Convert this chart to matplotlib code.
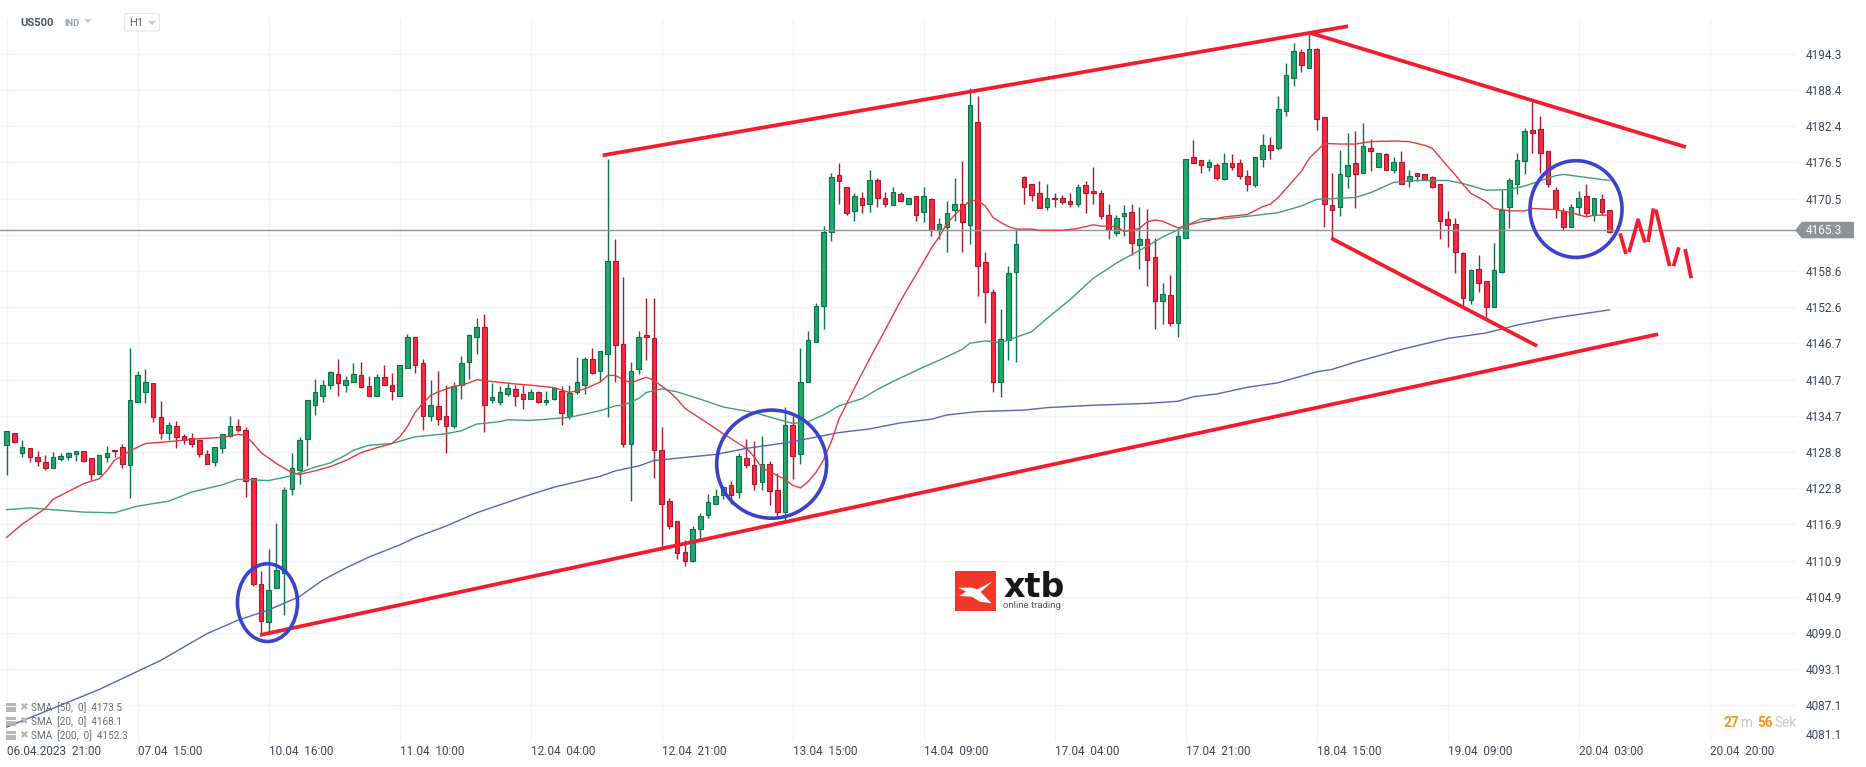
import matplotlib
matplotlib.use("Agg")
import matplotlib.pyplot as plt
from matplotlib.patches import Ellipse, Polygon, Rectangle, FancyBboxPatch

plt.rcParams['font.family'] = ['Roboto', 'DejaVu Sans']

# ---------- data ----------
opens = [
 4129.9,4131.9,4128.6,4129.4,4127.9,4127.1,4126.2,4127.7,4127.9,4128.4,
 4128.9,4127.8,4125.1,4128.0,4129.2,4129.6,4126.6,4137.1,4138.6,4140.1,
 4134.5,4132.0,4133.0,4131.4,4131.1,4130.7,4128.4,4127.1,4129.4,4131.4,
 4133.0,4132.5,4124.5,4107.0,4100.8,4106.4,4108.8,4122.7,4125.9,4130.9,
 4136.6,4138.0,4139.8,4141.6,4139.9,4140.4,4141.4,4139.6,4138.1,4141.1,
 4139.8,4138.1,4142.6,4147.8,4143.4,4134.7,4136.3,4134.8,4133.0,4139.8,
 4143.7,4147.7,4149.3,4137.3,4137.1,4138.3,4139.1,4138.3,4137.6,4138.6,
 4137.0,4137.5,4138.8,4134.8,4138.6,4139.8,4144.1,4142.1,4145.0,4160.2,
 4146.5,4130.1,4142.4,4148.0,4147.5,4129.2,4120.8,4117.5,4112.4,4110.9,
 4116.1,4118.4,4120.2,4121.8,4123.3,4122.2,4127.8,4126.6,4123.8,4126.9,
 4122.5,4118.9,4133.2,4128.4,4140.3,4146.9,4152.8,4165.1,4174.4,4172.5,
 4168.4,4170.6,4169.7,4173.5,4170.6,4169.4,4171.2,4169.7,4170.9,4168.3,
 4170.4,4165.3,4165.8,4168.6,4169.7,4166.1,4183.2,4160.0,4155.1,4140.4,
 4147.2,4158.4,4174.0,4173.0,4171.5,4169.1,4170.7,4170.6,4170.1,4169.6,
 4172.7,4171.7,4171.5,4167.8,4164.8,4167.6,4168.3,4162.8,4163.8,4160.9,
 4153.6,4154.6,4150.0,4164.1,4177.3,4176.8,4175.7,4176.0,4173.7,4176.3,
 4176.3,4174.2,4172.7,4177.0,4179.3,4178.8,4185.0,4190.3,4194.6,4192.1,
 4195.1,4183.9,4169.4,4169.1,4174.2,4176.3,4174.8,4178.8,4175.8,4177.8,
 4175.3,4176.5,4173.4,4174.8,4174.5,4174.0,4172.9,4167.1,4166.3,4161.5,
 4153.9,4159.0,4156.9,4152.6,4158.5,4169.1,4173.0,4176.7,4181.8,4181.9,
 4178.3,4172.0,4168.4,4165.9,4169.2,4170.9,4167.9,4170.4,4168.7]
closes = [
 4132.3,4130.5,4129.6,4127.9,4127.4,4126.2,4127.9,4128.1,4128.6,4128.9,
 4127.4,4125.1,4128.3,4128.7,4128.9,4126.8,4137.3,4141.4,4140.3,4134.6,
 4131.9,4133.2,4131.2,4130.8,4130.1,4128.5,4126.9,4129.6,4131.7,4133.0,
 4132.4,4124.1,4107.1,4100.9,4106.0,4109.3,4122.5,4126.1,4130.7,4137.3,
 4138.6,4139.8,4141.9,4140.1,4140.6,4141.6,4139.5,4138.0,4141.1,4139.8,
 4138.8,4143.2,4147.8,4143.1,4134.7,4136.6,4134.3,4133.0,4139.6,4143.4,
 4148.0,4149.3,4136.6,4137.8,4138.6,4139.3,4138.0,4137.6,4138.6,4137.0,
 4137.3,4139.3,4135.2,4138.5,4140.3,4144.1,4141.8,4145.5,4160.2,4146.4,
 4130.2,4142.2,4147.8,4147.7,4129.1,4120.2,4116.7,4112.1,4110.9,4116.2,
 4118.2,4120.5,4121.5,4123.0,4121.8,4128.2,4126.6,4123.5,4126.9,4122.3,
 4118.9,4133.2,4128.1,4140.3,4147.3,4152.8,4165.0,4174.0,4173.4,4168.1,
 4170.9,4169.4,4173.5,4170.6,4169.6,4171.6,4170.1,4170.7,4167.9,4170.9,
 4165.3,4166.3,4168.1,4169.6,4166.6,4186.0,4159.4,4155.1,4140.4,4147.4,
 4158.2,4163.0,4172.5,4171.1,4168.9,4170.6,4170.4,4169.9,4169.7,4172.5,
 4171.5,4171.4,4167.6,4165.3,4167.4,4168.1,4163.2,4163.8,4160.4,4153.6,
 4154.8,4150.1,4164.3,4177.1,4176.3,4176.0,4176.5,4173.9,4176.3,4175.8,
 4174.2,4172.9,4177.3,4179.3,4178.5,4185.2,4190.8,4194.8,4192.5,4195.1,
 4183.7,4169.6,4168.6,4174.5,4176.0,4174.5,4179.1,4178.3,4178.1,4175.2,
 4176.5,4173.0,4174.3,4174.2,4173.5,4172.4,4166.8,4166.1,4161.8,4154.1,
 4158.7,4156.6,4152.6,4158.7,4168.7,4173.5,4176.8,4181.6,4181.4,4178.1,
 4173.0,4168.8,4165.9,4169.1,4170.7,4168.1,4170.7,4168.3,4165.1]
highs = [
 4132.3,4131.9,4130.7,4129.4,4129.0,4128.3,4128.8,4128.6,4128.8,4128.9,
 4128.9,4127.8,4128.3,4129.8,4129.2,4130.2,4145.9,4142.1,4142.5,4140.1,
 4137.2,4133.7,4133.9,4131.7,4131.9,4130.7,4129.2,4129.7,4131.7,4134.7,
 4134.2,4132.9,4124.6,4109.2,4112.8,4117.1,4123.1,4128.6,4131.2,4137.3,
 4140.9,4140.6,4142.1,4144.1,4141.3,4143.4,4143.6,4141.3,4141.6,4143.1,
 4141.8,4143.2,4148.2,4147.8,4144.1,4140.6,4142.2,4139.8,4140.3,4144.6,
 4148.3,4150.8,4151.6,4140.1,4139.6,4140.3,4139.9,4139.9,4139.1,4138.8,
 4138.8,4139.5,4139.6,4139.8,4144.4,4144.4,4146.0,4145.5,4177.1,4163.8,
 4157.6,4143.6,4148.8,4154.1,4154.1,4132.9,4121.3,4117.5,4114.3,4116.6,
 4118.7,4121.9,4122.7,4123.0,4124.1,4128.7,4131.0,4130.6,4131.4,4127.3,
 4125.3,4136.2,4134.8,4146.0,4148.7,4153.3,4166.0,4174.7,4176.3,4172.5,
 4171.4,4171.6,4175.2,4173.9,4171.6,4172.5,4171.6,4170.7,4170.9,4172.5,
 4170.7,4167.3,4170.2,4173.9,4176.7,4188.7,4187.4,4161.8,4155.7,4152.4,
 4159.4,4165.5,4174.2,4173.0,4173.4,4173.0,4171.5,4171.1,4171.4,4172.9,
 4173.4,4175.7,4172.0,4169.6,4167.9,4169.4,4169.6,4169.1,4168.8,4164.1,
 4156.6,4158.0,4165.6,4177.1,4180.1,4176.8,4177.0,4176.3,4178.1,4177.8,
 4177.1,4175.3,4177.3,4181.1,4180.6,4187.4,4192.8,4196.1,4195.1,4197.6,
 4195.3,4184.0,4174.8,4178.6,4181.3,4181.6,4182.9,4180.4,4178.1,4178.1,
 4177.3,4178.3,4175.2,4174.8,4174.5,4174.2,4172.9,4168.4,4167.3,4161.8,
 4158.9,4161.3,4156.9,4163.2,4171.9,4173.9,4178.1,4182.1,4186.5,4184.1,
 4178.3,4172.5,4168.9,4169.6,4171.7,4173.0,4170.7,4171.2,4168.7]
lows = [
 4125.0,4130.3,4128.0,4127.2,4126.5,4125.9,4126.1,4127.4,4127.5,4127.4,
 4127.2,4124.2,4125.1,4127.2,4128.0,4126.2,4121.3,4137.1,4136.8,4133.8,
 4131.0,4130.7,4129.4,4130.2,4129.7,4128.0,4126.9,4126.5,4128.7,4131.2,
 4132.1,4121.4,4106.8,4098.6,4099.1,4106.4,4102.0,4121.8,4123.6,4126.5,
 4134.9,4137.1,4139.2,4138.1,4138.6,4140.3,4139.3,4138.0,4138.1,4139.8,
 4137.3,4138.1,4142.6,4141.8,4132.5,4133.9,4133.2,4128.6,4132.7,4137.6,
 4140.8,4144.9,4132.1,4136.8,4136.6,4138.1,4136.4,4135.8,4137.6,4136.8,
 4136.6,4137.3,4133.2,4134.3,4138.3,4138.3,4141.6,4140.3,4134.6,4140.3,
 4129.7,4120.8,4141.6,4143.9,4124.6,4112.7,4116.2,4111.2,4110.1,4110.7,
 4114.4,4118.0,4120.2,4121.0,4120.3,4121.3,4126.1,4122.5,4122.5,4120.0,
 4118.0,4117.5,4124.3,4126.8,4140.3,4146.9,4149.0,4163.6,4169.7,4167.8,
 4166.8,4168.1,4168.3,4169.2,4169.2,4169.4,4170.1,4169.6,4166.9,4166.6,
 4164.3,4163.8,4161.8,4166.9,4161.8,4163.0,4154.5,4150.1,4138.6,4137.8,
 4144.0,4143.6,4169.7,4170.2,4168.9,4168.6,4169.1,4169.7,4169.1,4169.1,
 4168.1,4169.7,4167.1,4163.8,4164.3,4164.3,4161.3,4159.0,4156.2,4149.0,
 4149.8,4149.5,4147.8,4164.1,4176.3,4174.8,4175.0,4173.5,4173.5,4175.3,
 4173.7,4171.7,4172.5,4175.8,4177.1,4178.6,4184.2,4189.0,4191.3,4192.1,
 4181.8,4165.9,4164.0,4167.6,4172.2,4168.9,4174.8,4175.0,4175.8,4175.2,
 4174.8,4173.0,4172.4,4173.4,4173.5,4172.2,4163.8,4162.5,4158.2,4152.9,
 4153.1,4155.2,4151.0,4152.6,4158.2,4165.6,4171.2,4174.5,4178.1,4174.7,
 4172.4,4167.3,4165.3,4165.8,4167.8,4167.6,4166.8,4167.8,4164.8]

sma20_x = [0,2,5,6,8,10,12,13,14,15,16,18,21,25,28,30,31,32,33,35,37,38,40,42,44,46,48,50,51,52,53,54,55,56,58,59,60,61,63,66,68,71,73,75,77,78,79,80,81,83,84,86,87,88,91,93,96,97,98,101,102,103,104,105,106,107,108,110,112,114,116,118,120,121,122,123,124,125,126,127,128,129,130,131,133,134,137,139,141,142,143,144,145,147,148,149,150,152,153,155,158,161,163,164,165,168,169,171,173,175,177,180,182,184,185,187,188,189,190,192,193,195,197,198,201,203,205,206,208]
sma20_y = [4114.75,4116.9,4119.5,4121.0,4122.3,4123.6,4124.4,4125.7,4127.5,4128.1,4129.0,4130.2,4130.5,4131.0,4131.2,4131.7,4131.5,4130.2,4128.7,4126.9,4125.4,4125.1,4125.7,4126.4,4127.4,4128.7,4129.5,4130.2,4131.3,4133.0,4135.3,4136.8,4138.1,4138.7,4139.6,4139.8,4140.2,4140.7,4140.4,4140.0,4139.8,4139.4,4138.6,4139.2,4140.3,4141.4,4141.4,4140.7,4140.2,4141.1,4140.6,4138.7,4137.5,4136.0,4133.5,4131.8,4129.4,4128.0,4126.2,4124.3,4123.3,4122.9,4123.9,4125.4,4127.5,4130.5,4134.2,4139.3,4144.2,4148.9,4153.7,4158.0,4162.4,4164.2,4166.4,4167.8,4169.0,4170.2,4170.2,4169.3,4167.4,4166.6,4165.9,4165.5,4165.5,4165.3,4165.3,4165.6,4166.2,4166.0,4166.0,4165.9,4165.1,4165.6,4166.7,4167.0,4166.8,4165.7,4166.1,4166.7,4167.5,4167.9,4169.2,4169.6,4170.7,4175.0,4177.1,4179.6,4179.5,4179.5,4179.9,4180.0,4179.9,4179.3,4178.8,4175.8,4174.4,4172.8,4171.4,4170.0,4168.9,4168.5,4168.5,4168.9,4168.7,4168.2,4167.5,4167.8,4167.8]
sma50_x = [0,3,6,10,14,17,21,24,28,30,34,37,38,40,42,44,45,47,50,53,57,59,61,64,65,68,71,73,77,79,80,82,83,85,87,90,93,97,100,102,104,106,108,111,113,115,119,121,124,125,127,129,133,135,138,141,144,148,150,152,155,158,161,165,168,170,175,177,180,183,187,189,192,195,197,201,202,205,208]
sma50_y = [4119.3,4119.6,4119.3,4118.9,4118.8,4119.9,4120.7,4122.2,4123.4,4124.3,4124.1,4124.9,4125.4,4126.3,4127.0,4128.3,4129.1,4129.9,4130.2,4131.3,4131.8,4132.3,4133.4,4133.8,4134.1,4134.0,4134.3,4134.5,4135.6,4136.4,4136.5,4137.6,4138.6,4139.2,4138.7,4137.5,4136.2,4135.3,4134.2,4133.5,4133.8,4134.9,4136.4,4137.6,4139.1,4140.4,4142.8,4143.9,4145.7,4146.7,4147.1,4146.8,4148.6,4150.8,4153.9,4157.4,4159.9,4162.7,4164.2,4165.4,4167.2,4167.2,4167.6,4168.2,4169.3,4170.4,4170.7,4171.5,4173.2,4173.5,4173.5,4173.0,4171.9,4172.0,4172.6,4174.3,4174.5,4174.0,4173.5]
sma200_x = [0,12,20,26,30,34,38,41,44,47,51,53,57,61,67,71,77,79,82,84,92,96,101,104,108,112,116,120,122,126,132,135,141,148,152,154,157,161,165,170,172,175,181,185,187,192,196,201,208]
sma200_y = [4083.5,4089.7,4094.5,4098.9,4101.1,4102.8,4105.0,4107.7,4109.7,4111.5,4113.5,4114.7,4116.6,4118.8,4121.4,4123.0,4124.8,4125.7,4126.5,4127.4,4128.4,4129.4,4130.3,4131.0,4132.0,4132.6,4133.6,4134.2,4134.9,4135.45,4135.7,4136.1,4136.5,4136.8,4137.15,4137.9,4138.35,4139.45,4140.2,4142.0,4142.4,4143.6,4145.7,4146.9,4147.5,4148.4,4149.7,4150.9,4152.2]

price_ticks = [4194.3,4188.4,4182.4,4176.5,4170.5,4164.6,4158.6,4152.6,4146.7,4140.7,4134.7,4128.8,4122.8,4116.9,4110.9,4104.9,4099.0,4093.1,4087.1,4081.1]
time_ticks = [0,17,34,51,68,85,102,119,136,153,170,187,204,221]
time_labels = ["06.04.2023  21:00","07.04  15:00","10.04  16:00","11.04  10:00","12.04  04:00","12.04  21:00","13.04  15:00","14.04  09:00","17.04  04:00","17.04  21:00","18.04  15:00","19.04  09:00","20.04  03:00","20.04  20:00"]
current_price = 4165.3
legend_labels = ["SMA  [50,  0]  4173.5","SMA  [20,  0]  4168.1","SMA  [200,  0]  4152.3"]

# hand-drawn annotations (candle index, price)
trend_lines = [
    ([77.34,174.06],[4177.65,4198.9]),
    ([169.13,217.92],[4197.8,4179.0]),
    ([32.87,214.3],[4098.67,4148.2]),
    ([171.87,198.6],[4164.0,4146.25]),
    ([209.36,210.13],[4164.8,4161.4]),
    ([210.52,211.7,212.6],[4161.7,4167.0,4163.3]),
    ([213.0,213.7],[4163.4,4168.9]),
    ([214.0,215.8],[4168.7,4159.4]),
    ([216.3,217.0],[4159.4,4162.5]),
    ([217.8,218.6],[4162.2,4157.4]),
]
circles = [(33.84,4104.0,7.79,12.8),(99.27,4126.8,14.27,17.8),(203.65,4168.8,11.94,15.92)]

# ---------- figure ----------
W, H = 1866, 767
fig = plt.figure(figsize=(W/100, H/100), dpi=100, facecolor='white')
L, R, T, B = 0, 1798, 18, 742
ax = fig.add_axes([L/W, 1-B/H, (R-L)/W, (B-T)/H])
ax.set_xlim((L-6.7)/7.706, (R-6.7)/7.706)
ax.set_ylim(4158.6-(B-271)/6.074, 4158.6+(271-T)/6.074)
for s in ax.spines.values():
    s.set_visible(False)
ax.set_axisbelow(True)
ax.grid(True, color='#f4f4f5', lw=1.0)
ax.yaxis.tick_right()
ax.set_yticks(price_ticks)
ax.set_yticklabels(['' if p == 4164.6 else f'{p:.1f}' for p in price_ticks])
ax.set_xticks(time_ticks)
ax.set_xticklabels(time_labels, ha='left')
ax.tick_params(axis='both', length=0, labelsize=8.5, labelcolor='#3c4852')
ax.tick_params(axis='y', pad=5.6)
ax.tick_params(axis='x', pad=2.5)
ax.get_yticklabels()[-1].set_va('bottom')

GREEN, GREEN_E = '#20a86d', '#0f6f4c'
RED, RED_E = '#f8283f', '#a81a2e'
xs = list(range(len(opens)))
up = [c >= o for o, c in zip(opens, closes)]
ax.vlines(xs, lows, highs, colors=[GREEN_E if u else RED_E for u in up], lw=1.0, zorder=2)
ax.bar(xs, [abs(c-o) for o, c in zip(opens, closes)], bottom=[min(o, c) for o, c in zip(opens, closes)],
       width=0.6, color=[GREEN if u else RED for u in up],
       edgecolor=[GREEN_E if u else RED_E for u in up], linewidth=0.8, zorder=3)

ax.axhline(current_price, color='#8c9698', lw=1.0, zorder=4)
ax.plot(sma50_x, sma50_y, color='#3f9e7c', lw=1.0, zorder=5)
ax.plot(sma20_x, sma20_y, color='#e53a3e', lw=1.0, zorder=5)
ax.plot(sma200_x, sma200_y, color='#5a64b4', lw=1.0, zorder=5)

for xv, yv in trend_lines:
    ax.plot(xv, yv, color='#f31c2f', lw=2.7, zorder=6, solid_capstyle='butt')
for cx, cy, w, h in circles:
    ax.add_patch(Ellipse((cx, cy), w, h, fill=False, edgecolor='#3c42c9', lw=2.6, zorder=7))

# ---------- chrome, in pixel coordinates ----------
ov = fig.add_axes([0, 0, 1, 1], facecolor='none')
ov.set_xlim(0, W); ov.set_ylim(H, 0); ov.axis('off')

# price tag
py = H - ax.transData.transform((0, current_price))[1]
ov.add_patch(Polygon([(1795, py), (1802, py-8.5), (1854, py-8.5), (1854, py+8), (1802, py+8)],
                     closed=True, fc='#8a9598', ec='none', zorder=3))
ov.text(1806, py, f'{current_price:.1f}', color='white', fontsize=8.5, va='center', ha='left', zorder=4)

# header
ov.text(20, 23, 'US500', fontsize=8.1, fontweight='bold', color='#4a5660', va='center')
ov.text(64, 23, 'IND', fontsize=6.6, fontweight='bold', color='#90a4ae', va='center')
ov.add_patch(Polygon([(84, 19), (91.5, 19), (87.7, 23)], fc='#c9c9c9', ec='none'))
ov.add_patch(FancyBboxPatch((124.5, 13.5), 35, 17.5, boxstyle='round,pad=0,rounding_size=2.5',
                            fc='white', ec='#e8e8e8', lw=0.9, zorder=2))
ov.text(129.5, 23.5, 'H1', fontsize=8, color='#555f66', va='center', zorder=3)
ov.add_patch(Polygon([(148, 21), (156, 21), (152, 25)], fc='#c9c9c9', ec='none', zorder=3))

# indicator legend
for yy, lab in zip([707.5, 721.5, 735.5], legend_labels):
    ov.add_patch(Rectangle((6, yy-5), 10, 9, fc='#b0b0b0', ec='none', alpha=0.9, zorder=3))
    ov.add_patch(Rectangle((6, yy-1.5), 10, 1.2, fc='white', ec='none', zorder=3))
    ov.text(23.5, yy-0.5, '\u2716', family='DejaVu Sans', fontsize=7.5, color='#b4b4b4', ha='center', va='center', zorder=3)
    ov.text(31, yy, lab, fontsize=7.2, color='#666c70', va='center', zorder=3)

# countdown
for xx, s, c, wgt in [(1723.7, '27', '#f7961e', 'bold'), (1740, 'm', '#c4c8cb', 'normal'),
                      (1757.7, '56', '#f7961e', 'bold'), (1774, 'Sek', '#c4c8cb', 'normal')]:
    ov.text(xx, 722.7, s, fontsize=9.8, fontweight=wgt, color=c, va='center', ha='left', zorder=3)

# logo
ov.add_patch(Rectangle((955, 571), 40.7, 40, fc='#f0392b', ec='none', zorder=3))
logo = [(85, 83), (125, 83), (142, 88), (187, 65), (152, 96), (185, 130), (150, 125), (125, 110), (88, 108), (108, 95)]
ov.add_patch(Polygon([(930+a/3, 560+b/3) for a, b in logo], fc='white', ec='none', zorder=4))
ov.text(1003, 597.3, 'xtb', family='DejaVu Sans', fontweight='bold', fontsize=24, color='#17181a', va='baseline', ha='left', zorder=3)
ov.text(1003, 605.7, 'online trading', fontsize=6.8, color='#55585a', va='center', ha='left', zorder=3)

fig.savefig('out.png', dpi=100, facecolor='white')
